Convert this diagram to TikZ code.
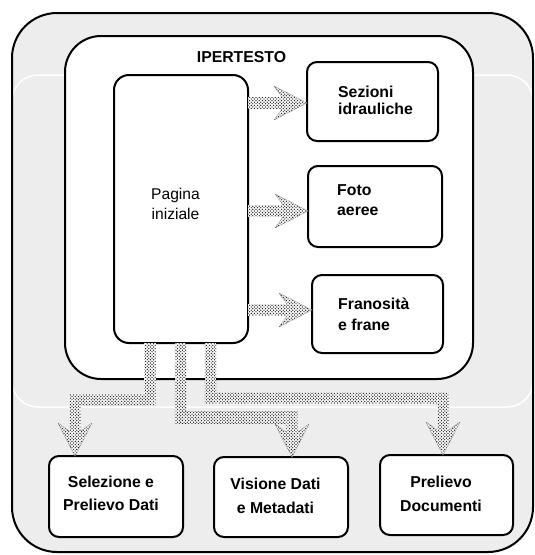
\documentclass[tikz,border=0pt]{standalone}
\usepackage{fontspec}
\setmainfont{Liberation Sans}
\usetikzlibrary{calc,patterns}

% staggered dot texture used for the fat connectors
\pgfdeclarepatternformonly{finedots}{\pgfqpoint{-1pt}{-1pt}}{\pgfqpoint{4.2pt}{4.2pt}}{\pgfqpoint{3.2pt}{3.2pt}}{%
  \pgfpathcircle{\pgfqpoint{0pt}{0pt}}{0.7pt}%
  \pgfpathcircle{\pgfqpoint{1.6pt}{1.6pt}}{0.7pt}%
  \pgfusepath{fill}}

\definecolor{panelgray}{HTML}{EDEDED}

% two-line labels: centred / left aligned, baseline = first line
\newcommand\twoc[2]{\vtop{\hbox to 0pt{\hss#1\hss}\hbox to 0pt{\hss#2\hss}}}
\newcommand\twol[2]{\vtop{\hbox{#1}\hbox{#2}}}
\newcommand\shaftw{5.7}

% straight connector pointing right: start coordinate, tip coordinate
\newcommand\rightrun[2]{%
  \fill[shaft] ($(#1)+(0,-\shaftw)$) rectangle ($(#2)+(-25,\shaftw)$);
  \pic at (#2) {fathead};}
% down / sideways / down connector: start, first bend, second bend, tip
\newcommand\droprun[4]{%
  \fill[shaft] ($(#1)+(-\shaftw,0)$) rectangle ($(#2)+(\shaftw,\shaftw)$);
  \fill[shaft] ($(#2)+(0,-\shaftw)$) rectangle ($(#3)+(0,\shaftw)$);
  \fill[shaft] ($(#3)+(-\shaftw,-\shaftw)$) rectangle ($(#4)+(\shaftw,-25)$);
  \pic[rotate=-90] at (#4) {fathead};}

\begin{document}
\begin{tikzpicture}[x=1pt,y=-1pt,
  outerfill/.style={fill=panelgray, inner sep=0pt, outer sep=0pt, rounded corners=45pt},
  outerline/.style={draw=black, line width=2pt, rounded corners=45pt},
  band/.style={draw=white, line width=1.5pt, inner sep=0pt, outer sep=0pt, rounded corners=26pt},
  panel/.style={draw=black, line width=2pt, fill=white, rounded corners=#1, inner sep=0pt, outer sep=0pt},
  boldtext/.style={font=\fontsize{15.8}{#1}\selectfont\bfseries, inner sep=0pt},
  plaintext/.style={font=\fontsize{15.6}{#1}\selectfont, inner sep=0pt},
  shaft/.style={preaction={fill=white}, pattern=finedots, pattern color=black!90},
  headline/.style={draw=black!50, line width=0.5pt, dash pattern=on 1.2pt off 0.8pt},
  fathead/.pic={
    \fill[shaft] (0,0) -- (-33,-17) -- (-25,-6) -- (-25,6) -- (-33,17) -- cycle;
    \draw[headline] (-25,-6) -- (-33,-17) -- (0,0) -- (-33,17) -- (-25,6);
  }]
\useasboundingbox (0,0) rectangle (535,555);

% outer frame and the light band behind the hypertext block
\node[outerfill, minimum width=521pt, minimum height=539pt] (outer) at (272.5,282.5) {};
\node[band, minimum width=521pt, minimum height=332pt] (band) at (272.5,241) {};
\draw[outerline] (outer.north west) rectangle (outer.south east);

% hypertext block
\node[panel=36pt, minimum width=408pt, minimum height=343pt] (hyper) at (269,207.5) {};
\node[boldtext=18, anchor=base] (htitle) at (241.5,62) {IPERTESTO};

\node[panel=15pt, minimum width=134pt, minimum height=268pt] (pag) at (181,209) {};
\node[panel=10pt, minimum width=131pt, minimum height=79pt] (sez) at (372.5,101.5) {};
\node[panel=10pt, minimum width=134pt, minimum height=81pt] (foto) at (375,206.5) {};
\node[panel=10pt, minimum width=131pt, minimum height=78pt] (fra) at (377.5,314) {};

% services below
\node[panel=10pt, minimum width=134pt, minimum height=81pt] (sel) at (116,496.5) {};
\node[panel=10pt, minimum width=134pt, minimum height=80pt] (vis) at (281,497) {};
\node[panel=10pt, minimum width=133pt, minimum height=80pt] (doc) at (446.5,495) {};

% labels
\node[plaintext=19.5, anchor=base] (pagtxt) at (175.5,199.5) {\twoc{Pagina}{iniziale}};
\node[boldtext=17, anchor=base west] (seztxt) at (338,97) {\twol{Sezioni}{idrauliche}};
\node[boldtext=20, anchor=base west] (fototxt) at (337,195) {\twol{Foto}{aeree}};
\node[boldtext=21, anchor=base west] (fratxt) at (338,309) {\twol{Franosità}{e frane}};
\node[boldtext=23, anchor=base] (seltxt) at (111,487) {\twoc{Selezione e}{Prelievo Dati}};
\node[boldtext=24, anchor=base] (vistxt) at (275.5,489) {\twoc{Visione Dati}{e Metadati}};
\node[boldtext=24, anchor=base] (doctxt) at (441,487.5) {\twoc{Prelievo}{Documenti}};

% connectors to the hypertext sections
\coordinate (r1s) at (pag.east |- 0,103);
\coordinate (r1t) at (sez.west |- 0,103);
\coordinate (r2s) at (pag.east |- 0,211);
\coordinate (r2t) at (foto.west |- 0,211);
\coordinate (r3s) at (pag.east |- 0,310);
\coordinate (r3t) at (fra.west |- 0,310);
\rightrun{r1s}{r1t}
\rightrun{r2s}{r2t}
\rightrun{r3s}{r3t}

% connectors to the services
\coordinate (d1s) at ([xshift=36pt]pag.south west);
\coordinate (d1t) at ([xshift=-41pt]sel.north);
\coordinate (d1a) at (d1s |- 0,400);
\coordinate (d1b) at (d1t |- 0,400);
\droprun{d1s}{d1a}{d1b}{d1t}

\coordinate (d2s) at ([xshift=66.5pt]pag.south west);
\coordinate (d2t) at ([xshift=11pt]vis.north);
\coordinate (d2a) at (d2s |- 0,417.5);
\coordinate (d2b) at (d2t |- 0,417.5);
\droprun{d2s}{d2a}{d2b}{d2t}

\coordinate (d3s) at ([xshift=96.5pt]pag.south west);
\coordinate (d3t) at ([xshift=-3.5pt]doc.north);
\coordinate (d3a) at (d3s |- 0,398);
\coordinate (d3b) at (d3t |- 0,398);
\droprun{d3s}{d3a}{d3b}{d3t}
\end{tikzpicture}
\end{document}
